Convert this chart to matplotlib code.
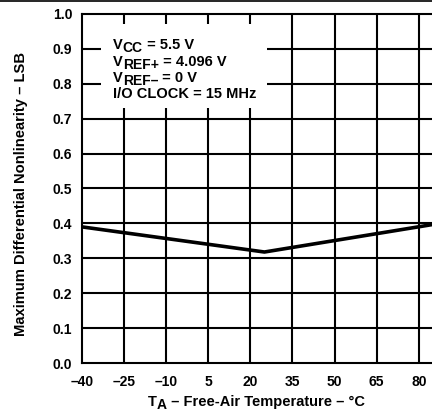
import matplotlib
matplotlib.use("Agg")
import matplotlib.pyplot as plt
from matplotlib.lines import Line2D

plt.rcParams["font.family"] = ["Liberation Sans", "DejaVu Sans"]
plt.rcParams["font.weight"] = "bold"

# data
temp = [-40, 25, 95]
dnl = [0.39, 0.318, 0.41]

x_ticks = [-40, -25, -10, 5, 20, 35, 50, 65, 80]
x_labels = ["\u201340", "\u201325", "\u201310", "5", "20", "35", "50", "65", "80"]
x_grid = [-25, -10, 5, 20, 35, 50, 65, 80]
y_ticks = [0.0, 0.1, 0.2, 0.3, 0.4, 0.5, 0.6, 0.7, 0.8, 0.9, 1.0]

fig = plt.figure(figsize=(4.32, 4.15), dpi=100)
ax = fig.add_axes([0.1898, 0.1253, 0.877, 0.8410])

for xv in x_grid:
    ax.axvline(xv, color="black", lw=1.5, zorder=1)
for yv in y_ticks[1:-1]:
    ax.axhline(yv, color="black", lw=1.5, zorder=1)

ax.plot(temp, dnl, color="black", lw=2.6, zorder=3)

ax.set_xlim(-40, 95)
ax.set_ylim(0, 1.0)
ax.set_xticks(x_ticks)
ax.set_xticklabels(x_labels)
ax.set_yticks(y_ticks)
ax.set_yticklabels(["%.1f" % v for v in y_ticks])
ax.tick_params(length=0, labelsize=10, pad=7)
ax.tick_params(axis="x", pad=8.5)
for s in ax.spines.values():
    s.set_linewidth(1.5)
ax.set_ylabel("Maximum Differential Nonlinearity \u2013 LSB", fontsize=10.6, fontweight="bold")
ax.yaxis.set_label_coords(-0.142, 0.483)

# white box behind conditions text
ax.add_patch(plt.Rectangle((-33.3, 0.73), 59.3, 0.24, facecolor="white",
                           edgecolor="none", zorder=2))


def chain(parts, x, y, coords, size):
    # parts: list of (text, dy in points, size); each piece starts where the last ended
    t = ax.annotate(parts[0][0], xy=(x, y), xycoords=coords, fontsize=parts[0][2],
                    fontweight="bold", va="bottom", ha="left", zorder=5,
                    annotation_clip=False)
    first = t
    prev_dy = parts[0][1]
    for txt, dy, sz in parts[1:]:
        t = ax.annotate(txt, xy=(1, 0), xycoords=t, xytext=(0, dy - prev_dy),
                        textcoords="offset points", fontsize=sz,
                        fontweight="bold", va="bottom", ha="left", zorder=5,
                        annotation_clip=False)
        prev_dy = dy
    return first


fs = 10.5
ss = 10
sub = -2.5
chain([("V", 0, fs), ("CC", sub, ss), (" = 5.5 V", 0, fs)], 113 / 432, 1 - 52 / 415, "figure fraction", fs)
chain([("V", 0, fs), ("REF+", sub, ss), (" = 4.096 V", 0, fs)], 113 / 432, 1 - 68.5 / 415, "figure fraction", fs)
chain([("V", 0, fs), ("REF\u2013", sub, ss), (" = 0 V", 0, fs)], 113 / 432, 1 - 85 / 415, "figure fraction", fs)
chain([("I/O CLOCK = 15 MHz", 0, fs)], 113 / 432, 1 - 101.5 / 415, "figure fraction", fs)

# x axis label, placed by hand
chain([("T", 0, fs), ("A", sub, ss), (" \u2013 Free-Air Temperature \u2013 \u00b0C", 0, fs)],
      148 / 432, 1 - 409 / 415, "figure fraction", fs)

fig.add_artist(Line2D([0, 1], [0.998, 0.998], color="black", lw=1.2))

fig.savefig("out.png", dpi=100)
